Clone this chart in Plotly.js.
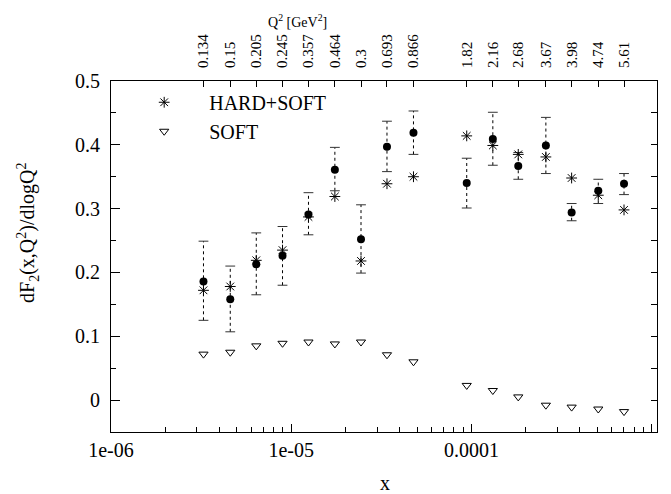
<!DOCTYPE html>
<html>
<head>
<meta charset="utf-8">
<script src="https://cdn.plot.ly/plotly-3.0.1.min.js"></script>
<style>html,body{margin:0;padding:0;background:#fff;}#chart{width:671px;height:494px;}</style>
</head>
<body>
<div id="chart"></div>
<script>
// x values of the bins
const xVals = [3.26e-6, 4.59e-6, 6.40e-6, 8.95e-6, 1.247e-5, 1.747e-5, 2.44e-5, 3.40e-5, 4.77e-5,
               9.42e-5, 1.315e-4, 1.82e-4, 2.59e-4, 3.60e-4, 5.06e-4, 7.03e-4];
// Q^2 labels (top axis)
const q2Labels = ["0.134","0.15","0.205","0.245","0.357","0.464","0.3","0.693","0.866",
                  "1.82","2.16","2.68","3.67","3.98","4.74","5.61"];
// data points (filled circles) with error bars
const dataY  = [0.186, 0.158, 0.213, 0.226, 0.291, 0.361, 0.252, 0.397, 0.419,
                0.340, 0.409, 0.367, 0.399, 0.294, 0.328, 0.339];
const dataHi = [0.249, 0.210, 0.262, 0.272, 0.325, 0.396, 0.306, 0.437, 0.453,
                0.379, 0.451, 0.388, 0.443, 0.308, 0.346, 0.355];
const dataLo = [0.125, 0.107, 0.165, 0.180, 0.259, 0.328, 0.199, 0.358, 0.385,
                0.301, 0.368, 0.346, 0.355, 0.281, 0.308, 0.322];
// HARD+SOFT
const hardSoft = [0.172, 0.178, 0.219, 0.235, 0.287, 0.319, 0.218, 0.339, 0.350,
                  0.414, 0.399, 0.385, 0.381, 0.348, 0.321, 0.298];
// SOFT
const soft = [0.072, 0.075, 0.085, 0.089, 0.091, 0.088, 0.091, 0.071, 0.060,
              0.023, 0.015, 0.005, -0.008, -0.011, -0.014, -0.018];

const serif = "'Liberation Serif', 'Times New Roman', serif";

// dashed error bar segments built from the arrays
const ebX = [], ebY = [];
xVals.forEach((x, i) => { ebX.push(x, x, null); ebY.push(dataLo[i], dataHi[i], null); });

const traces = [
  {x: ebX, y: ebY, mode: 'lines', line: {color: '#000', width: 1, dash: '3px,3px'},
   showlegend: false, hoverinfo: 'skip'},
  {x: xVals.concat(xVals), y: dataLo.concat(dataHi), mode: 'markers',
   marker: {symbol: 'line-ew', size: 7, line: {color: '#333', width: 1}},
   showlegend: false, hoverinfo: 'skip'},
  {x: xVals, y: dataY, mode: 'markers', marker: {symbol: 'circle', size: 8, color: '#000'},
   showlegend: false},
  {x: xVals, y: hardSoft, mode: 'markers', name: 'HARD+SOFT',
   marker: {symbol: 'asterisk-open', size: 9, color: '#000', line: {color: '#000', width: 1}}},
  {x: xVals, y: soft, mode: 'markers', name: 'SOFT',
   marker: {symbol: 'triangle-down-open', size: 8, color: '#000', line: {color: '#000', width: 1}}},
  {x: xVals, y: soft, xaxis: 'x2', yaxis: 'y2', mode: 'markers', opacity: 0,
   showlegend: false, hoverinfo: 'skip'}
];

const xr = [-6, -2.97];
const yr = [-0.05, 0.5];

const layout = {
  width: 671, height: 494,
  margin: {l: 111, r: 14, t: 81, b: 62},
  paper_bgcolor: '#fff', plot_bgcolor: '#fff',
  font: {family: serif, size: 20, color: '#000'},
  showlegend: true,
  legend: {x: 0.015, y: 0.995, xanchor: 'left', yanchor: 'top', bgcolor: 'rgba(0,0,0,0)',
           font: {family: serif, size: 20}, itemwidth: 80, tracegroupgap: 0},
  xaxis: {type: 'log', range: xr, showline: true, linecolor: '#000', linewidth: 1, mirror: true,
          ticks: 'inside', ticklen: 8, tickcolor: '#000', showgrid: false, zeroline: false,
          tickvals: [1e-6, 1e-5, 1e-4, 1e-3], ticktext: ['1e-06', '1e-05', '0.0001', '0.001'],
          minor: {ticks: 'inside', ticklen: 5, tickcolor: '#000',
                  tickvals: [2e-6,3e-6,4e-6,5e-6,6e-6,7e-6,8e-6,9e-6,2e-5,3e-5,4e-5,5e-5,6e-5,7e-5,8e-5,9e-5,
                             2e-4,3e-4,4e-4,5e-4,6e-4,7e-4,8e-4,9e-4]},
          tickfont: {size: 20}},
  xaxis2: {type: 'log', range: xr, overlaying: 'x', side: 'top', anchor: 'y',
           tickvals: xVals, ticktext: q2Labels, tickangle: -90, ticks: 'inside', ticklen: 6,
           tickcolor: '#000', showgrid: false, zeroline: false, showline: false,
           tickfont: {size: 15}, ticklabelstandoff: 12},
  yaxis: {range: yr, showline: true, linecolor: '#000', linewidth: 1, mirror: true,
          ticks: 'inside', ticklen: 9, tickcolor: '#000', dtick: 0.1, tick0: 0,
          showgrid: false, zeroline: false, tickfont: {size: 20}, ticklabelstandoff: 6,
          minor: {ticks: 'inside', ticklen: 5, tickcolor: '#000', dtick: 0.05}},
  yaxis2: {range: yr, overlaying: 'y', side: 'right', anchor: 'x', dtick: 0.05, tick0: 0,
           ticks: 'inside', ticklen: 6, tickcolor: '#000', showticklabels: false,
           showgrid: false, zeroline: false, showline: false},
  annotations: [
    {text: 'dF<sub>2</sub>(x,Q<sup>2</sup>)/dlogQ<sup>2</sup>', xref: 'paper', yref: 'paper',
     x: -0.152, y: 0.567, xanchor: 'center', yanchor: 'middle', textangle: -90, showarrow: false,
     font: {family: serif, size: 20}},
    {text: 'x', xref: 'paper', yref: 'paper', x: 0.502, y: -0.146, xanchor: 'center', yanchor: 'middle',
     showarrow: false, font: {family: serif, size: 20}},
    {text: 'Q<sup>2</sup> [GeV<sup>2</sup>]', xref: 'paper', yref: 'paper', x: 0.341, y: 1.17,
     xanchor: 'center', yanchor: 'middle', showarrow: false, font: {family: serif, size: 14}}
  ]
};

Plotly.newPlot('chart', traces, layout, {displayModeBar: false, staticPlot: true});
</script>
</body>
</html>
